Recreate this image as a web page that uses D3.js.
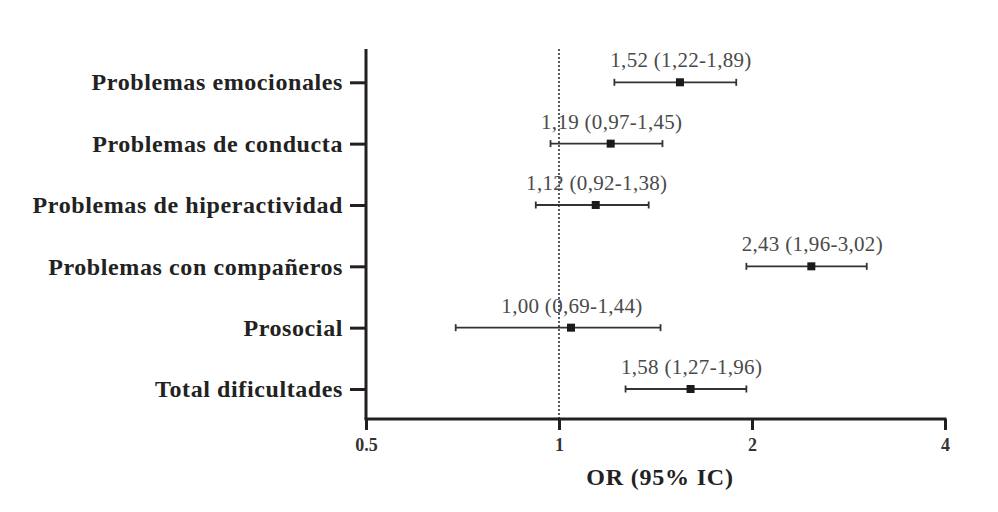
<!DOCTYPE html>
<html><head><meta charset="utf-8">
<script src="https://cdn.jsdelivr.net/npm/d3@7"></script>
<style>
html,body{margin:0;padding:0;background:#fff;}
svg{display:block;}
</style></head>
<body>
<svg id="chart" width="998" height="512"></svg>
<script>
// Data
const categories = ["Problemas emocionales","Problemas de conducta","Problemas de hiperactividad","Problemas con compañeros","Prosocial","Total dificultades"];
const orPlotted = [1.544, 1.204, 1.141, 2.475, 1.044, 1.604];   // square positions as drawn
const ciLow     = [1.22, 0.97, 0.92, 1.96, 0.69, 1.27];
const ciHigh    = [1.89, 1.45, 1.38, 3.02, 1.44, 1.96];
const orLabels  = ["1,52 (1,22-1,89)","1,19 (0,97-1,45)","1,12 (0,92-1,38)","2,43 (1,96-3,02)","1,00 (0,69-1,44)","1,58 (1,27-1,96)"];
const tickValues = [0.5, 1, 2, 4];
const tickLabels = ["0.5","1","2","4"];
const xTitle = "OR (95% IC)";
const refValue = 1;

const rows = categories.map((c,i)=>({cat:c, or:orPlotted[i], lo:ciLow[i], hi:ciHigh[i], label:orLabels[i]}));

// Layout
const mLeft = 366, mRight = 945, mTop = 49, mBottom = 419;
const rowTop = 82.3, rowBottom = 389;
const svg = d3.select("#chart");
const serif = "'Liberation Serif','Times New Roman',serif";
const ink = "#231f20";

const x = d3.scaleLog().base(2).domain([0.5, 4]).range([mLeft, mRight]);
const y = d3.scalePoint().domain(categories).range([rowTop, rowBottom]);

// Reference dotted line
svg.append("line")
  .attr("x1", x(refValue)).attr("x2", x(refValue))
  .attr("y1", mTop).attr("y2", mBottom)
  .attr("stroke", "#2b3340").attr("stroke-width", 1.6)
  .attr("stroke-dasharray", "2,2");

// X axis
const xAxis = svg.append("g")
  .attr("transform", `translate(0,${mBottom})`)
  .call(d3.axisBottom(x).tickValues(tickValues)
    .tickFormat((d,i)=>tickLabels[i]).tickSize(11).tickSizeOuter(0).tickPadding(8));
xAxis.select(".domain").remove();
xAxis.append("line").attr("x1", mLeft-1.5).attr("x2", mRight+1.5).attr("y1",0).attr("y2",0)
  .attr("stroke", ink).attr("stroke-width", 3);
xAxis.selectAll(".tick line").attr("stroke", ink).attr("stroke-width", 3);
xAxis.selectAll(".tick text").attr("fill", "#333").attr("font-family", serif)
  .attr("font-weight", "bold").attr("font-size", 18);

// Y axis
const yAxis = svg.append("g")
  .attr("transform", `translate(${mLeft},0)`)
  .call(d3.axisLeft(y).tickSize(16).tickSizeOuter(0).tickPadding(7));
yAxis.select(".domain").remove();
yAxis.append("line").attr("x1",0).attr("x2",0).attr("y1", mTop).attr("y2", mBottom)
  .attr("stroke", ink).attr("stroke-width", 3);
yAxis.selectAll(".tick line").attr("stroke", ink).attr("stroke-width", 3);
yAxis.selectAll(".tick text").attr("fill", "#222").attr("font-family", serif)
  .attr("font-weight", "bold").attr("font-size", 24).attr("letter-spacing", "0.6px")
  .attr("dy", "0.32em");

// X title
svg.append("text")
  .attr("x", 660).attr("y", 485)
  .attr("text-anchor", "middle")
  .attr("font-family", serif).attr("font-weight", "bold").attr("font-size", 24)
  .attr("letter-spacing", "0.8px")
  .attr("fill", "#222").text(xTitle);

// Error bars
const g = svg.append("g");
const cap = 3.5;
const r = g.selectAll("g.row").data(rows).join("g").attr("class","row");
r.append("line")
  .attr("x1", d=>x(d.lo)).attr("x2", d=>x(d.hi))
  .attr("y1", d=>y(d.cat)).attr("y2", d=>y(d.cat))
  .attr("stroke", "#333").attr("stroke-width", 1.8);
r.append("line")
  .attr("x1", d=>x(d.lo)).attr("x2", d=>x(d.lo))
  .attr("y1", d=>y(d.cat)-cap).attr("y2", d=>y(d.cat)+cap)
  .attr("stroke", "#333").attr("stroke-width", 1.8);
r.append("line")
  .attr("x1", d=>x(d.hi)).attr("x2", d=>x(d.hi))
  .attr("y1", d=>y(d.cat)-cap).attr("y2", d=>y(d.cat)+cap)
  .attr("stroke", "#333").attr("stroke-width", 1.8);
r.append("rect")
  .attr("x", d=>x(d.or)-4).attr("y", d=>y(d.cat)-4)
  .attr("width", 8).attr("height", 8).attr("fill", "#1a1a1a");
r.append("text")
  .attr("x", d=>x(d.or)+1).attr("y", d=>y(d.cat)-15)
  .attr("text-anchor", "middle")
  .attr("font-family", serif).attr("font-size", 21).attr("letter-spacing", "0.3px")
  .attr("fill", "#4a4a4a").text(d=>d.label);
</script>
</body></html>
